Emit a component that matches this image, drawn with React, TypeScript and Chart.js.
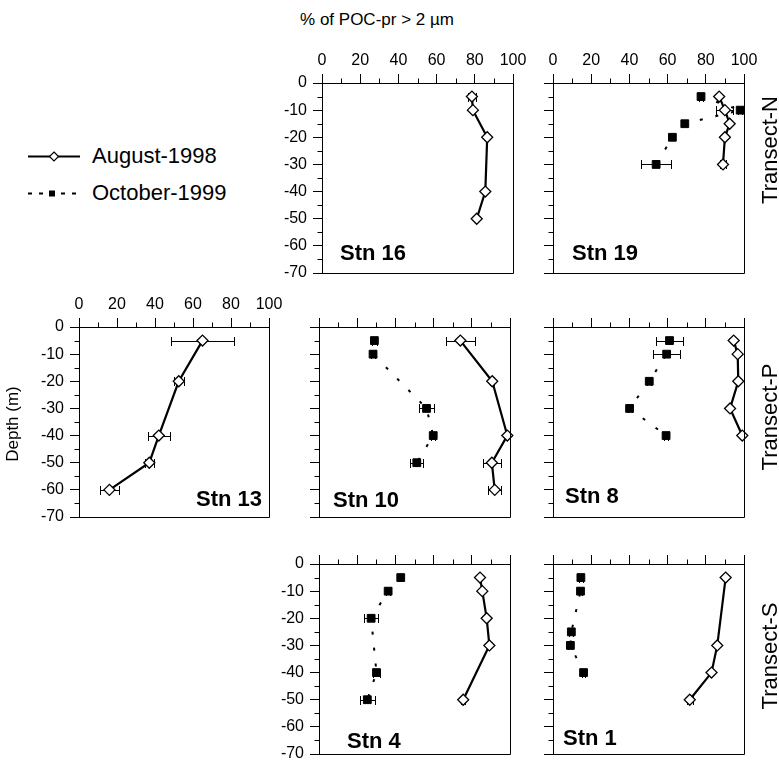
import React, { useEffect, useRef } from 'react';
import { Chart, registerables } from 'chart.js';

Chart.register(...registerables);

const FONT = '"Liberation Sans", Arial, Helvetica, sans-serif';

// ---- axes ----
const pctTicks = [0, 20, 40, 60, 80, 100];
const pctMinorTicks = [10, 30, 50, 70, 90];
const depthTicks = [0, -10, -20, -30, -40, -50, -60, -70];
const depthMinorTicks = [-5, -15, -25, -35, -45, -55, -65];

// ---- Stn 16 ----
const stn16AugDepth = [-5, -10, -20, -40, -50];
const stn16AugPct = [78.5, 79, 86.5, 85.5, 81];
const stn16AugErr = [2, 0, 0, 0, 0];

// ---- Stn 19 ----
const stn19AugDepth = [-5, -10, -15, -20, -30];
const stn19AugPct = [87, 90, 92.5, 90, 89];
const stn19AugErr = [0, 4.4, 0, 0, 1.5];
const stn19OctDepth = [-5, -10, -15, -20, -30];
const stn19OctPct = [77.5, 98, 69, 62.5, 54];
const stn19OctErr = [1, 1, 0, 0, 8];

// ---- Stn 13 ----
const stn13AugDepth = [-5, -20, -40, -50, -60];
const stn13AugPct = [65, 52.5, 42, 37, 16];
const stn13AugErr = [16.8, 2.7, 5.8, 2.4, 5];

// ---- Stn 10 ----
const stn10AugDepth = [-5, -20, -40, -50, -60];
const stn10AugPct = [74, 90.7, 98.6, 90.5, 92];
const stn10AugErr = [7.6, 1, 0, 4.8, 3.5];
const stn10OctDepth = [-5, -10, -30, -40, -50];
const stn10OctPct = [29, 28.3, 56.3, 59.8, 51.2];
const stn10OctErr = [1.5, 1, 3.8, 1, 3.5];

// ---- Stn 8 ----
const stn8AugDepth = [-5, -10, -20, -30, -40];
const stn8AugPct = [94.6, 96.7, 97, 92.7, 99.1];
const stn8AugErr = [0, 0, 0, 0, 0];
const stn8OctDepth = [-5, -10, -20, -30, -40];
const stn8OctPct = [61, 59.5, 50.4, 40.1, 59.2];
const stn8OctErr = [7.2, 7.2, 1, 1, 1];

// ---- Stn 4 ----
const stn4AugDepth = [-5, -10, -20, -30, -50];
const stn4AugPct = [84.3, 85.5, 87.8, 89.2, 75.5];
const stn4AugErr = [0, 0, 0, 0, 1];
const stn4OctDepth = [-5, -10, -20, -40, -50];
const stn4OctPct = [42.8, 36.2, 27.3, 30.1, 25.3];
const stn4OctErr = [0, 1, 3.8, 2, 3.8];

// ---- Stn 1 ----
const stn1AugDepth = [-5, -30, -40, -50];
const stn1AugPct = [90.4, 86, 83, 71.6];
const stn1AugErr = [0, 0, 0, 1.5];
const stn1OctDepth = [-5, -10, -25, -30, -40];
const stn1OctPct = [14.6, 14.4, 9.6, 9.1, 16];
const stn1OctErr = [1, 1, 1, 1, 1];

type Series = { depth: number[]; pct: number[]; err: number[] };

const AX_W = 50;
const AX_H = 40;
const PAD_R = 26;
const PAD_B = 26;

const panels = [
  { name: 'Stn 16', box: [322, 83, 513, 273], showX: true, showY: true, aug: { depth: stn16AugDepth, pct: stn16AugPct, err: stn16AugErr }, oct: null, lab: [340, 253] },
  { name: 'Stn 19', box: [553, 83, 744, 273], showX: true, showY: false, aug: { depth: stn19AugDepth, pct: stn19AugPct, err: stn19AugErr }, oct: { depth: stn19OctDepth, pct: stn19OctPct, err: stn19OctErr }, lab: [572, 253] },
  { name: 'Stn 13', box: [79, 327, 269, 517], showX: true, showY: true, aug: { depth: stn13AugDepth, pct: stn13AugPct, err: stn13AugErr }, oct: null, lab: [196, 499] },
  { name: 'Stn 10', box: [319, 327, 510, 517], showX: false, showY: false, aug: { depth: stn10AugDepth, pct: stn10AugPct, err: stn10AugErr }, oct: { depth: stn10OctDepth, pct: stn10OctPct, err: stn10OctErr }, lab: [333, 500] },
  { name: 'Stn 8', box: [553, 327, 744, 517], showX: false, showY: false, aug: { depth: stn8AugDepth, pct: stn8AugPct, err: stn8AugErr }, oct: { depth: stn8OctDepth, pct: stn8OctPct, err: stn8OctErr }, lab: [565, 496] },
  { name: 'Stn 4', box: [319, 564, 510, 754], showX: false, showY: true, aug: { depth: stn4AugDepth, pct: stn4AugPct, err: stn4AugErr }, oct: { depth: stn4OctDepth, pct: stn4OctPct, err: stn4OctErr }, lab: [347, 741] },
  { name: 'Stn 1', box: [553, 564, 744, 754], showX: false, showY: false, aug: { depth: stn1AugDepth, pct: stn1AugPct, err: stn1AugErr }, oct: { depth: stn1OctDepth, pct: stn1OctPct, err: stn1OctErr }, lab: [563, 738] },
];

const extrasPlugin = {
  id: 'panelExtras',
  beforeDatasetsDraw(chart: any) {
    const ctx = chart.ctx;
    const xs = chart.scales.x;
    const ys = chart.scales.y;
    ctx.save();
    ctx.strokeStyle = '#000';
    ctx.lineWidth = 1;
    chart.data.datasets.forEach((ds: any) => {
      const errs: number[] = ds.errorBars || [];
      ds.data.forEach((p: any, i: number) => {
        const e = errs[i];
        if (!e) return;
        const y = Math.round(ys.getPixelForValue(p.y)) + 0.5;
        const x1 = Math.round(xs.getPixelForValue(p.x - e)) + 0.5;
        const x2 = Math.round(xs.getPixelForValue(p.x + e)) + 0.5;
        ctx.beginPath();
        ctx.moveTo(x1, y);
        ctx.lineTo(x2, y);
        ctx.moveTo(x1, y - 4.5);
        ctx.lineTo(x1, y + 4.5);
        ctx.moveTo(x2, y - 4.5);
        ctx.lineTo(x2, y + 4.5);
        ctx.stroke();
      });
    });
    ctx.restore();
  },
  afterDraw(chart: any) {
    const ctx = chart.ctx;
    const a = chart.chartArea;
    const xs = chart.scales.x;
    const ys = chart.scales.y;
    ctx.save();
    ctx.strokeStyle = '#000';
    ctx.lineWidth = 1;
    ctx.beginPath();
    const r = Math.round(a.right) + 0.5;
    const b = Math.round(a.bottom) + 0.5;
    const t = Math.round(a.top) + 0.5;
    const l = Math.round(a.left) + 0.5;
    ctx.moveTo(r, t);
    ctx.lineTo(r, b);
    ctx.moveTo(l, b);
    ctx.lineTo(r, b);
    pctMinorTicks.forEach((v) => {
      const x = Math.round(xs.getPixelForValue(v)) + 0.5;
      ctx.moveTo(x, t - 5);
      ctx.lineTo(x, t);
    });
    depthMinorTicks.forEach((v) => {
      const y = Math.round(ys.getPixelForValue(v)) + 0.5;
      ctx.moveTo(l - 5, y);
      ctx.lineTo(l, y);
    });
    ctx.stroke();
    ctx.restore();
  },
};

function toPoints(s: Series) {
  return s.depth.map((d, i) => ({ x: s.pct[i], y: d }));
}

function Panel({ cfg }: { cfg: any }) {
  const ref = useRef<HTMLCanvasElement>(null);
  const [l, t, r, b] = cfg.box;
  const W = AX_W + (r - l) + PAD_R;
  const H = AX_H + (b - t) + PAD_B;
  useEffect(() => {
    const datasets: any[] = [];
    datasets.push({
      label: 'August-1998',
      data: toPoints(cfg.aug),
      errorBars: cfg.aug.err,
      borderColor: '#000',
      borderWidth: 2.2,
      pointStyle: 'rectRot',
      pointRadius: 5.5,
      pointBackgroundColor: '#fff',
      pointBorderColor: '#000',
      pointBorderWidth: 1.3,
      tension: 0,
      clip: false,
      fill: false,
    });
    if (cfg.oct) {
      datasets.push({
        label: 'October-1999',
        data: toPoints(cfg.oct),
        errorBars: cfg.oct.err,
        borderColor: '#000',
        borderWidth: 2,
        borderDash: [3, 13],
        pointStyle: 'rect',
        pointRadius: 5.5,
        pointBackgroundColor: '#000',
        pointBorderColor: '#000',
        pointBorderWidth: 1,
        tension: 0,
        clip: false,
        fill: false,
      });
    }
    const chart = new Chart(ref.current as HTMLCanvasElement, {
      type: 'line',
      data: { datasets },
      plugins: [extrasPlugin],
      options: {
        animation: false,
        responsive: false,
        maintainAspectRatio: false,
        devicePixelRatio: 1,
        events: [],
        layout: { padding: { left: 0, top: 0, right: PAD_R, bottom: PAD_B } },
        plugins: { legend: { display: false }, tooltip: { enabled: false }, title: { display: false } },
        scales: {
          x: {
            type: 'linear',
            position: 'top',
            min: 0,
            max: 100,
            afterBuildTicks: (s: any) => { s.ticks = pctTicks.map((v) => ({ value: v })); },
            afterFit: (s: any) => { s.height = AX_H; },
            grid: { drawOnChartArea: false, drawTicks: true, tickLength: 9, color: '#000', lineWidth: 1 },
            border: { display: true, color: '#000', width: 1 },
            ticks: { display: cfg.showX, color: '#000', font: { size: 16, family: FONT }, padding: 4, maxRotation: 0, autoSkip: false },
          },
          y: {
            type: 'linear',
            position: 'left',
            min: -70,
            max: 0,
            afterBuildTicks: (s: any) => { s.ticks = depthTicks.map((v) => ({ value: v })); },
            afterFit: (s: any) => { s.width = AX_W; },
            grid: { drawOnChartArea: false, drawTicks: true, tickLength: 9, color: '#000', lineWidth: 1 },
            border: { display: true, color: '#000', width: 1 },
            ticks: { display: cfg.showY, color: '#000', font: { size: 16, family: FONT }, padding: 6, autoSkip: false },
          },
        },
      } as any,
    });
    return () => chart.destroy();
  }, []);
  return (
    <canvas
      ref={ref}
      width={W}
      height={H}
      style={{ position: 'absolute', left: l - AX_W, top: t - AX_H, width: W, height: H }}
    />
  );
}

const textBase: React.CSSProperties = {
  position: 'absolute',
  fontFamily: FONT,
  color: '#000',
  whiteSpace: 'nowrap',
};

function Rotated({ text, cx, cy, size }: { text: string; cx: number; cy: number; size: number }) {
  return (
    <div
      style={{
        ...textBase,
        left: cx,
        top: cy,
        fontSize: size,
        lineHeight: `${Math.round(size * 1.2)}px`,
        transform: 'translate(-50%, -50%) rotate(-90deg)',
      }}
    >
      {text}
    </div>
  );
}

export default function App() {
  return (
    <div style={{ position: 'absolute', left: 0, top: 0, width: 779, height: 763, background: '#fff', overflow: 'hidden' }}>
      {panels.map((p) => (
        <Panel key={p.name} cfg={p} />
      ))}
      {panels.map((p) => (
        <div key={p.name + 'l'} style={{ ...textBase, left: p.lab[0], top: p.lab[1] - 13, fontSize: 22, lineHeight: '26px', fontWeight: 'bold' }}>
          {p.name}
        </div>
      ))}
      <div style={{ ...textBase, left: 377, top: 20, fontSize: 17, lineHeight: '20px', transform: 'translate(-50%, -50%)' }}>
        % of POC-pr &gt; 2 µm
      </div>
      <Rotated text="Depth (m)" cx={13} cy={424} size={17} />
      <Rotated text="Transect-N" cx={770} cy={150} size={22} />
      <Rotated text="Transect-P" cx={770} cy={417} size={22} />
      <Rotated text="Transect-S" cx={770} cy={656} size={22} />
      <svg width={90} height={60} style={{ position: 'absolute', left: 0, top: 140 }}>
        <line x1={28} y1={16.5} x2={80} y2={16.5} stroke="#000" strokeWidth={1.8} />
        <polygon points="54,12 58.5,16.5 54,21 49.5,16.5" fill="#fff" stroke="#000" strokeWidth={1.2} />
        <line x1={28} y1={53.5} x2={80} y2={53.5} stroke="#000" strokeWidth={1.8} strokeDasharray="4 7" />
        <rect x={49} y={50.5} width={6} height={6} fill="#000" />
      </svg>
      <div style={{ ...textBase, left: 92, top: 156 - 13, fontSize: 22, lineHeight: '26px' }}>August-1998</div>
      <div style={{ ...textBase, left: 92, top: 193 - 13, fontSize: 22, lineHeight: '26px' }}>October-1999</div>
    </div>
  );
}
